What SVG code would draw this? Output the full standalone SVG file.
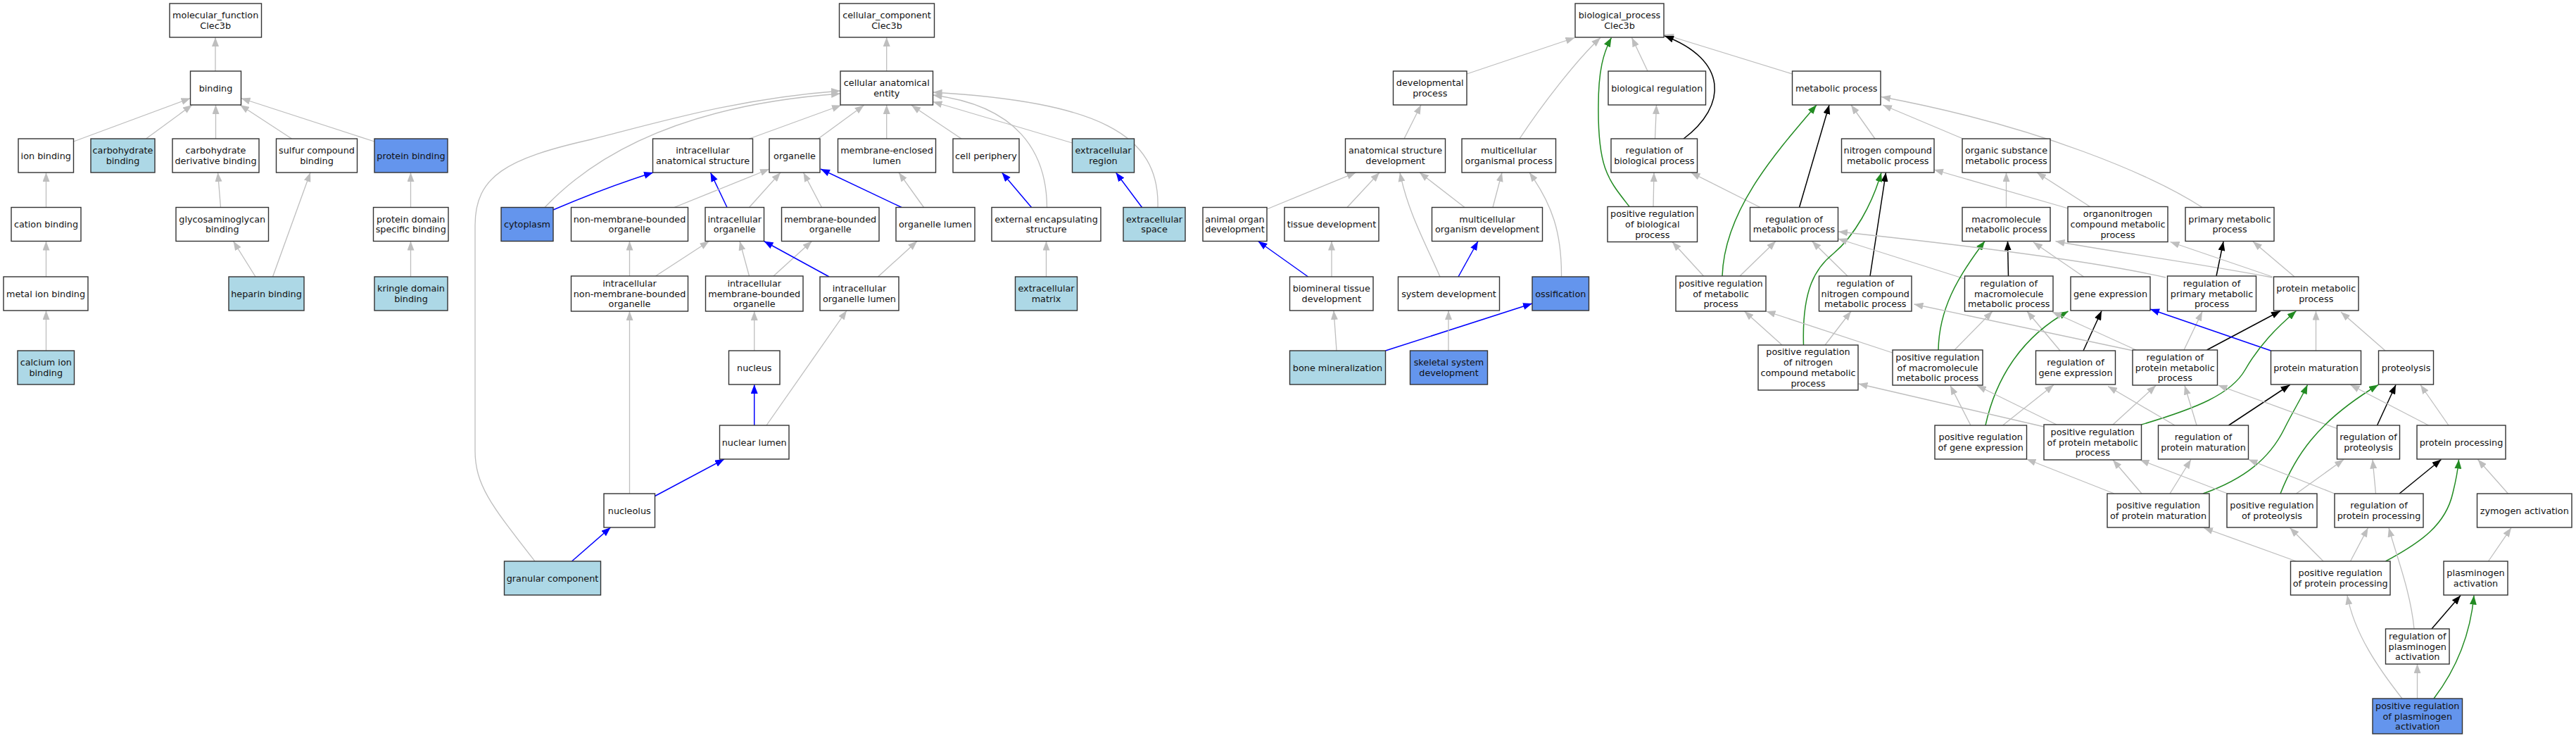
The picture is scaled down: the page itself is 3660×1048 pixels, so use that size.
<svg xmlns="http://www.w3.org/2000/svg" width="3660" height="1048" viewBox="0 0 3660 1048">
<style>
.n rect{fill:#fff;stroke:#333;stroke-width:1.4}
.n.lb rect{fill:#add8e6}
.n.cb rect{fill:#6495ed}
.n text{font-family:"DejaVu Sans",sans-serif;font-size:12.8px;text-anchor:middle;fill:#111}
#edges path{fill:none;stroke-width:1.3}
#edges .g{stroke:#bebebe;marker-end:url(#ag)}
#edges .b{stroke:#0000ff;stroke-width:1.5;marker-end:url(#ab)}
#edges .k{stroke:#000;stroke-width:1.5;marker-end:url(#ak)}
#edges .e{stroke:#228b22;stroke-width:1.5;marker-end:url(#ae)}
</style>
<defs>
<marker id="ag" viewBox="0 0 13 10" refX="13" refY="5" markerWidth="13" markerHeight="10" markerUnits="userSpaceOnUse" orient="auto"><path d="M0,0 L13,5 L0,10 z" fill="#bebebe"/></marker>
<marker id="ab" viewBox="0 0 13 10" refX="13" refY="5" markerWidth="13" markerHeight="10" markerUnits="userSpaceOnUse" orient="auto"><path d="M0,0 L13,5 L0,10 z" fill="#0000ff"/></marker>
<marker id="ak" viewBox="0 0 13 10" refX="13" refY="5" markerWidth="13" markerHeight="10" markerUnits="userSpaceOnUse" orient="auto"><path d="M0,0 L13,5 L0,10 z" fill="#000"/></marker>
<marker id="ae" viewBox="0 0 13 10" refX="13" refY="5" markerWidth="13" markerHeight="10" markerUnits="userSpaceOnUse" orient="auto"><path d="M0,0 L13,5 L0,10 z" fill="#228b22"/></marker>
</defs>
<rect width="3660" height="1048" fill="#fff"/>
<g id="edges">
<path class="g" d="M306,101 L306,53"/>
<path class="g" d="M104.5,201 L270.5,139.5"/>
<path class="g" d="M207.5,197 L273,149"/>
<path class="g" d="M306.5,197 L306.5,149"/>
<path class="g" d="M414.5,197 L341,149"/>
<path class="g" d="M532,201 L342.5,139.5"/>
<path class="g" d="M65.5,294.5 L65.5,245"/>
<path class="g" d="M65.5,393 L65.5,342.5"/>
<path class="g" d="M65.5,498 L65.5,441"/>
<path class="g" d="M313.5,294.5 L309.5,245"/>
<path class="g" d="M363,393 L331.5,342.5"/>
<path class="g" d="M387.5,393 L441,245"/>
<path class="g" d="M583.5,294.5 L583.5,245"/>
<path class="g" d="M583.5,393 L583.5,342.5"/>
<path class="g" d="M1259.7,101 L1259.7,53"/>
<path class="g" d="M1064.5,197 L1195,149.5"/>
<path class="g" d="M1162.5,197 L1227.5,149.5"/>
<path class="g" d="M1259.7,197 L1259.7,149"/>
<path class="g" d="M1366,197 L1295,149.5"/>
<path class="g" d="M1523.5,203 L1325.5,144.5"/>
<path class="g" d="M1487.5,294.5 C1487,215 1445,150 1325.5,135"/>
<path class="g" d="M1645,294.5 C1648,190 1560,145 1325.5,131"/>
<path class="g" d="M774,294.5 C840,225 960,150 1194,133"/>
<path class="g" d="M760,797 C700,720 675,690 675,640 L675,320 C675,250 720,225 840,198 C950,170 1050,140 1194,129"/>
<path class="b" d="M786,298 C840,275 880,260 928,245"/>
<path class="b" d="M1033,294.5 L1009.5,245"/>
<path class="g" d="M958,294.5 L1093,240"/>
<path class="g" d="M1064.5,294.5 L1109,245"/>
<path class="g" d="M1167.5,294.5 L1141.5,245"/>
<path class="b" d="M1281,294.5 L1166,240"/>
<path class="g" d="M1312.5,294.5 L1277,245"/>
<path class="b" d="M1465.5,294.5 L1423.5,245"/>
<path class="b" d="M1622.5,294.5 L1585.5,245"/>
<path class="g" d="M894.5,392 L894.5,342.5"/>
<path class="g" d="M931.5,392 L1007.5,342.5"/>
<path class="g" d="M1064.5,392 L1051,342.5"/>
<path class="g" d="M1099,392 L1153.5,342.5"/>
<path class="b" d="M1178,393 L1085.5,342.5"/>
<path class="g" d="M1247.5,393 L1303,342.5"/>
<path class="g" d="M1486.5,393 L1486.5,342.5"/>
<path class="g" d="M1071.7,498 L1071.7,442"/>
<path class="b" d="M1071.7,604 L1071.7,546"/>
<path class="g" d="M1089,604 L1203,441"/>
<path class="g" d="M894.5,701 L894.5,442"/>
<path class="b" d="M930.5,704.5 L1029,652"/>
<path class="b" d="M812.5,797 L867.5,749"/>
<path class="g" d="M2084,105 L2237.5,53.5"/>
<path class="g" d="M2159,197 C2190,150 2240,85 2274,53.5"/>
<path class="g" d="M2341,101 L2318.5,53.5"/>
<path class="g" d="M2546.5,105 L2365,49"/>
<path class="k" d="M2391.5,197.5 C2455,150 2455,85 2365,51"/>
<path class="e" d="M2315.5,294 C2285,255 2270,240 2271,150 C2271,100 2278,75 2289.5,53.5"/>
<path class="g" d="M2351.5,197 L2353.5,149"/>
<path class="g" d="M2349,293.5 L2350,245"/>
<path class="g" d="M1995,197 L2019,149"/>
<path class="g" d="M1800,297 L1926.5,245"/>
<path class="g" d="M1914,294.5 L1960,245"/>
<path class="g" d="M2046,393 C2025,345 2000,300 1989,245"/>
<path class="g" d="M2081,294.5 L2017,245"/>
<path class="g" d="M2121,294.5 L2134,245"/>
<path class="g" d="M2218.5,393 C2219,330 2205,290 2173,245"/>
<path class="b" d="M1858.5,393 L1787.5,342.5"/>
<path class="g" d="M1892,393 L1892,342.5"/>
<path class="b" d="M2072,393 L2100,342.5"/>
<path class="g" d="M1899,498 L1895,441"/>
<path class="b" d="M1968.5,498 L2177,431"/>
<path class="g" d="M2058,498 L2058,441"/>
<path class="k" d="M2556.5,294.5 L2599,149"/>
<path class="g" d="M2501,294.5 L2402.5,245"/>
<path class="g" d="M2420.5,392 L2376,343.5"/>
<path class="g" d="M2472,392 L2523,342.5"/>
<path class="e" d="M2447,392 C2450,300 2520,220 2581,149"/>
<path class="g" d="M2664,197 L2630,149"/>
<path class="g" d="M2789,197 L2675,149"/>
<path class="g" d="M3129,294.5 C3060,250 2900,180 2673,137.5"/>
<path class="g" d="M2625,392 L2574.5,342.5"/>
<path class="k" d="M2657,392 L2679.5,245"/>
<path class="e" d="M2562.5,490 C2560,410 2580,380 2605,360 C2635,335 2660,290 2673,245"/>
<path class="g" d="M2532,490 L2478.5,442"/>
<path class="g" d="M2593,490 L2630,442"/>
<path class="g" d="M2938.5,296 L2748,241"/>
<path class="g" d="M2969.5,293.5 L2894,245"/>
<path class="g" d="M2850.5,294.5 L2850.5,245"/>
<path class="k" d="M2853.5,392 L2852.5,342.5"/>
<path class="g" d="M2791.5,396 L2611.5,339"/>
<path class="e" d="M2754,497 C2755,440 2780,395 2820,342.5"/>
<path class="g" d="M2777,497 L2831,442"/>
<path class="g" d="M2689,501 L2509.5,442"/>
<path class="g" d="M2960.5,393 L2889,344"/>
<path class="g" d="M3077,394 Q2950,365 2612,329"/>
<path class="g" d="M3228.5,394 C3100,370 2990,356 2920.5,342.5"/>
<path class="k" d="M3149,392 L3159,343"/>
<path class="g" d="M3260,393 L3201,343"/>
<path class="g" d="M3228.5,393 L3083.5,343.5"/>
<path class="k" d="M2960,498 L2986,441.5"/>
<path class="g" d="M2927,498 L2880,442"/>
<path class="e" d="M2821,604 C2835,540 2870,480 2938.5,442"/>
<path class="g" d="M2800,604 L2771,547.5"/>
<path class="g" d="M2845.5,604 L2918,546.5"/>
<path class="k" d="M3135.5,497 L3240,441.5"/>
<path class="g" d="M3103,497 L3129,442.5"/>
<path class="g" d="M3035,497 L2916,443"/>
<path class="g" d="M3031,498 L2719.5,432"/>
<path class="b" d="M3226.5,498 L3055,439"/>
<path class="e" d="M3042.5,603 C3120,580 3170,560 3190,525 C3210,490 3235,465 3262.5,441.5"/>
<path class="g" d="M3290.5,498 L3290.5,441.5"/>
<path class="g" d="M3389,498 L3326,443"/>
<path class="g" d="M3002,603 L3063,547.5"/>
<path class="g" d="M3090,604 L2995,548.5"/>
<path class="g" d="M3121,604 L3104,547.5"/>
<path class="k" d="M3166.5,604 L3253.5,546.5"/>
<path class="e" d="M3130,701 C3190,680 3225,650 3245,610 C3260,580 3270,565 3278.5,546.5"/>
<path class="g" d="M3320.5,608.5 L3151.5,547"/>
<path class="e" d="M3240,701 C3260,650 3290,600 3379,546.5"/>
<path class="k" d="M3377.5,604 L3404,546.5"/>
<path class="g" d="M3479,604 L3439,546.5"/>
<path class="g" d="M3450.5,604 L3339.5,546.5"/>
<path class="g" d="M2904,606 L2640.5,545"/>
<path class="g" d="M2922,603 L2809,547.5"/>
<path class="g" d="M3043,701 L3002,653"/>
<path class="g" d="M3083,701 L3113,652.5"/>
<path class="g" d="M3004,701 L2879.5,652"/>
<path class="g" d="M3165,701 L3040.5,653"/>
<path class="g" d="M3262.5,701 L3330,652.5"/>
<path class="g" d="M3317,701 L3194.5,652.5"/>
<path class="g" d="M3375.5,701 L3371,652.5"/>
<path class="k" d="M3409,701 L3468.5,652.5"/>
<path class="g" d="M3563.5,701 L3520.5,652.5"/>
<path class="e" d="M3389.5,797 C3440,770 3475,745 3485,700 C3490,680 3492,670 3493.5,652.5"/>
<path class="g" d="M3262.5,797 L3131,749.5"/>
<path class="g" d="M3301,797 L3253.5,749.5"/>
<path class="g" d="M3339.5,797 L3364.5,749.5"/>
<path class="g" d="M3535.5,797 L3568,749.5"/>
<path class="g" d="M3430,893 C3425,840 3405,790 3394,749.5"/>
<path class="k" d="M3455,893 L3496,845.5"/>
<path class="g" d="M3434.5,992 L3434.5,943"/>
<path class="g" d="M3413,992 C3380,950 3345,900 3335,845.5"/>
<path class="e" d="M3458,992 C3490,950 3510,900 3515,845.5"/>
</g>
<g id="n_mf" class="n"><rect x="241" y="5" width="130.5" height="48"/><text x="306.2" y="26.15">molecular_function<tspan x="306.2" y="40.85">Clec3b</tspan></text></g>
<g id="n_binding" class="n"><rect x="270.5" y="101" width="72" height="48"/><text x="306.5" y="129.5">binding</text></g>
<g id="n_ionb" class="n"><rect x="26" y="197" width="78.5" height="48"/><text x="65.25" y="225.5">ion binding</text></g>
<g id="n_carbb" class="n lb"><rect x="129" y="197" width="91" height="48"/><text x="174.5" y="218.15">carbohydrate<tspan x="174.5" y="232.85">binding</tspan></text></g>
<g id="n_cdb" class="n"><rect x="245" y="197" width="123" height="48"/><text x="306.5" y="218.15">carbohydrate<tspan x="306.5" y="232.85">derivative binding</tspan></text></g>
<g id="n_sulf" class="n"><rect x="392.5" y="197" width="115" height="48"/><text x="450" y="218.15">sulfur compound<tspan x="450" y="232.85">binding</tspan></text></g>
<g id="n_protb" class="n cb"><rect x="532" y="197" width="104" height="48"/><text x="584" y="225.5">protein binding</text></g>
<g id="n_cation" class="n"><rect x="16" y="294.5" width="99" height="48"/><text x="65.5" y="323">cation binding</text></g>
<g id="n_gag" class="n"><rect x="250" y="294.5" width="131.5" height="48"/><text x="315.75" y="315.65">glycosaminoglycan<tspan x="315.75" y="330.35">binding</tspan></text></g>
<g id="n_pdsb" class="n"><rect x="530.5" y="294.5" width="106.5" height="48"/><text x="583.75" y="315.65">protein domain<tspan x="583.75" y="330.35">specific binding</tspan></text></g>
<g id="n_metal" class="n"><rect x="5" y="393" width="120" height="48"/><text x="65" y="421.5">metal ion binding</text></g>
<g id="n_hep" class="n lb"><rect x="325" y="393" width="107" height="48"/><text x="378.5" y="421.5">heparin binding</text></g>
<g id="n_kringle" class="n lb"><rect x="532" y="393" width="104" height="48"/><text x="584" y="414.15">kringle domain<tspan x="584" y="428.85">binding</tspan></text></g>
<g id="n_calcium" class="n lb"><rect x="25" y="498" width="80.5" height="48"/><text x="65.25" y="519.15">calcium ion<tspan x="65.25" y="533.85">binding</tspan></text></g>
<g id="n_cc" class="n"><rect x="1192.5" y="5" width="135" height="48"/><text x="1260" y="26.15">cellular_component<tspan x="1260" y="40.85">Clec3b</tspan></text></g>
<g id="n_cae" class="n"><rect x="1194" y="101" width="131.5" height="48"/><text x="1259.75" y="122.15">cellular anatomical<tspan x="1259.75" y="136.85">entity</tspan></text></g>
<g id="n_ias" class="n"><rect x="927.5" y="197" width="142" height="48"/><text x="998.5" y="218.15">intracellular<tspan x="998.5" y="232.85">anatomical structure</tspan></text></g>
<g id="n_org" class="n"><rect x="1093" y="197" width="72" height="48"/><text x="1129" y="225.5">organelle</text></g>
<g id="n_mel" class="n"><rect x="1190.5" y="197" width="139" height="48"/><text x="1260" y="218.15">membrane-enclosed<tspan x="1260" y="232.85">lumen</tspan></text></g>
<g id="n_cp" class="n"><rect x="1354" y="197" width="94" height="48"/><text x="1401" y="225.5">cell periphery</text></g>
<g id="n_er" class="n lb"><rect x="1523.5" y="197" width="88" height="48"/><text x="1567.5" y="218.15">extracellular<tspan x="1567.5" y="232.85">region</tspan></text></g>
<g id="n_cyto" class="n cb"><rect x="712" y="294.5" width="74" height="48"/><text x="749" y="323">cytoplasm</text></g>
<g id="n_nmbo" class="n"><rect x="811.5" y="294.5" width="166" height="48"/><text x="894.5" y="315.65">non-membrane-bounded<tspan x="894.5" y="330.35">organelle</tspan></text></g>
<g id="n_io" class="n"><rect x="1002" y="294.5" width="83.5" height="48"/><text x="1043.75" y="315.65">intracellular<tspan x="1043.75" y="330.35">organelle</tspan></text></g>
<g id="n_mbo" class="n"><rect x="1110.5" y="294.5" width="138.5" height="48"/><text x="1179.75" y="315.65">membrane-bounded<tspan x="1179.75" y="330.35">organelle</tspan></text></g>
<g id="n_ol" class="n"><rect x="1273" y="294.5" width="112" height="48"/><text x="1329" y="323">organelle lumen</text></g>
<g id="n_ees" class="n"><rect x="1409" y="294.5" width="155" height="48"/><text x="1486.5" y="315.65">external encapsulating<tspan x="1486.5" y="330.35">structure</tspan></text></g>
<g id="n_es" class="n lb"><rect x="1596" y="294.5" width="88" height="48"/><text x="1640" y="315.65">extracellular<tspan x="1640" y="330.35">space</tspan></text></g>
<g id="n_inmbo" class="n"><rect x="811.5" y="392" width="166" height="50"/><text x="894.5" y="406.8">intracellular<tspan x="894.5" y="421.5">non-membrane-bounded</tspan><tspan x="894.5" y="436.2">organelle</tspan></text></g>
<g id="n_imbo" class="n"><rect x="1002.5" y="392" width="138.5" height="50"/><text x="1071.75" y="406.8">intracellular<tspan x="1071.75" y="421.5">membrane-bounded</tspan><tspan x="1071.75" y="436.2">organelle</tspan></text></g>
<g id="n_iol" class="n"><rect x="1165" y="393" width="112" height="48"/><text x="1221" y="414.15">intracellular<tspan x="1221" y="428.85">organelle lumen</tspan></text></g>
<g id="n_ecm" class="n lb"><rect x="1442.5" y="393" width="88" height="48"/><text x="1486.5" y="414.15">extracellular<tspan x="1486.5" y="428.85">matrix</tspan></text></g>
<g id="n_nucleus" class="n"><rect x="1035.5" y="498" width="72.5" height="48"/><text x="1071.75" y="526.5">nucleus</text></g>
<g id="n_nl" class="n"><rect x="1022.5" y="604" width="98.5" height="48"/><text x="1071.75" y="632.5">nuclear lumen</text></g>
<g id="n_nucleolus" class="n"><rect x="858" y="701" width="72.5" height="48"/><text x="894.25" y="729.5">nucleolus</text></g>
<g id="n_gc" class="n lb"><rect x="716.5" y="797" width="137" height="48"/><text x="785" y="825.5">granular component</text></g>
<g id="n_bp" class="n"><rect x="2238" y="5" width="126" height="48"/><text x="2301" y="26.15">biological_process<tspan x="2301" y="40.85">Clec3b</tspan></text></g>
<g id="n_dp" class="n"><rect x="1979.5" y="101" width="104.5" height="48"/><text x="2031.75" y="122.15">developmental<tspan x="2031.75" y="136.85">process</tspan></text></g>
<g id="n_br" class="n"><rect x="2285" y="101" width="138.5" height="48"/><text x="2354.25" y="129.5">biological regulation</text></g>
<g id="n_mp" class="n"><rect x="2546.5" y="101" width="125.5" height="48"/><text x="2609.25" y="129.5">metabolic process</text></g>
<g id="n_asd" class="n"><rect x="1911.5" y="197" width="142" height="48"/><text x="1982.5" y="218.15">anatomical structure<tspan x="1982.5" y="232.85">development</tspan></text></g>
<g id="n_mop" class="n"><rect x="2077" y="197" width="133.5" height="48"/><text x="2143.75" y="218.15">multicellular<tspan x="2143.75" y="232.85">organismal process</tspan></text></g>
<g id="n_robp" class="n"><rect x="2289" y="197" width="122.5" height="48"/><text x="2350.25" y="218.15">regulation of<tspan x="2350.25" y="232.85">biological process</tspan></text></g>
<g id="n_ncmp" class="n"><rect x="2616.5" y="197" width="131.5" height="48"/><text x="2682.25" y="218.15">nitrogen compound<tspan x="2682.25" y="232.85">metabolic process</tspan></text></g>
<g id="n_osmp" class="n"><rect x="2788" y="197" width="125" height="48"/><text x="2850.5" y="218.15">organic substance<tspan x="2850.5" y="232.85">metabolic process</tspan></text></g>
<g id="n_aod" class="n"><rect x="1709" y="294.5" width="91" height="48"/><text x="1754.5" y="315.65">animal organ<tspan x="1754.5" y="330.35">development</tspan></text></g>
<g id="n_td" class="n"><rect x="1825" y="294.5" width="134" height="48"/><text x="1892" y="323">tissue development</text></g>
<g id="n_mod" class="n"><rect x="2034.5" y="294.5" width="157" height="48"/><text x="2113" y="315.65">multicellular<tspan x="2113" y="330.35">organism development</tspan></text></g>
<g id="n_prbp" class="n"><rect x="2284" y="293.5" width="127.5" height="50"/><text x="2347.75" y="308.3">positive regulation<tspan x="2347.75" y="323">of biological</tspan><tspan x="2347.75" y="337.7">process</tspan></text></g>
<g id="n_romp" class="n"><rect x="2486.5" y="294.5" width="125" height="48"/><text x="2549" y="315.65">regulation of<tspan x="2549" y="330.35">metabolic process</tspan></text></g>
<g id="n_mmp" class="n"><rect x="2788" y="294.5" width="125" height="48"/><text x="2850.5" y="315.65">macromolecule<tspan x="2850.5" y="330.35">metabolic process</tspan></text></g>
<g id="n_oncmp" class="n"><rect x="2938" y="293.5" width="142" height="50"/><text x="3009" y="308.3">organonitrogen<tspan x="3009" y="323">compound metabolic</tspan><tspan x="3009" y="337.7">process</tspan></text></g>
<g id="n_primmp" class="n"><rect x="3105" y="294.5" width="126" height="48"/><text x="3168" y="315.65">primary metabolic<tspan x="3168" y="330.35">process</tspan></text></g>
<g id="n_btd" class="n"><rect x="1832.5" y="393" width="118.5" height="48"/><text x="1891.75" y="414.15">biomineral tissue<tspan x="1891.75" y="428.85">development</tspan></text></g>
<g id="n_sd" class="n"><rect x="1986.5" y="393" width="144" height="48"/><text x="2058.5" y="421.5">system development</text></g>
<g id="n_oss" class="n cb"><rect x="2177" y="393" width="80.5" height="48"/><text x="2217.25" y="421.5">ossification</text></g>
<g id="n_prmp" class="n"><rect x="2381" y="392" width="128" height="50"/><text x="2445" y="406.8">positive regulation<tspan x="2445" y="421.5">of metabolic</tspan><tspan x="2445" y="436.2">process</tspan></text></g>
<g id="n_rncmp" class="n"><rect x="2584.5" y="392" width="131.5" height="50"/><text x="2650.25" y="406.8">regulation of<tspan x="2650.25" y="421.5">nitrogen compound</tspan><tspan x="2650.25" y="436.2">metabolic process</tspan></text></g>
<g id="n_rommp" class="n"><rect x="2791.5" y="392" width="125.5" height="50"/><text x="2854.25" y="406.8">regulation of<tspan x="2854.25" y="421.5">macromolecule</tspan><tspan x="2854.25" y="436.2">metabolic process</tspan></text></g>
<g id="n_ge" class="n"><rect x="2942" y="393" width="113" height="48"/><text x="2998.5" y="421.5">gene expression</text></g>
<g id="n_rpmp" class="n"><rect x="3079.5" y="392" width="126" height="50"/><text x="3142.5" y="406.8">regulation of<tspan x="3142.5" y="421.5">primary metabolic</tspan><tspan x="3142.5" y="436.2">process</tspan></text></g>
<g id="n_pmp" class="n"><rect x="3230.5" y="393" width="120.5" height="48"/><text x="3290.75" y="414.15">protein metabolic<tspan x="3290.75" y="428.85">process</tspan></text></g>
<g id="n_bm" class="n lb"><rect x="1832.5" y="498" width="136" height="48"/><text x="1900.5" y="526.5">bone mineralization</text></g>
<g id="n_ssd" class="n cb"><rect x="2003.5" y="498" width="110" height="48"/><text x="2058.5" y="519.15">skeletal system<tspan x="2058.5" y="533.85">development</tspan></text></g>
<g id="n_prncmp" class="n"><rect x="2498" y="490" width="142" height="64"/><text x="2569" y="504.45">positive regulation<tspan x="2569" y="519.15">of nitrogen</tspan><tspan x="2569" y="533.85">compound metabolic</tspan><tspan x="2569" y="548.55">process</tspan></text></g>
<g id="n_prmmp" class="n"><rect x="2689" y="497" width="128" height="50"/><text x="2753" y="511.8">positive regulation<tspan x="2753" y="526.5">of macromolecule</tspan><tspan x="2753" y="541.2">metabolic process</tspan></text></g>
<g id="n_rge" class="n"><rect x="2892.5" y="498" width="113" height="48"/><text x="2949" y="519.15">regulation of<tspan x="2949" y="533.85">gene expression</tspan></text></g>
<g id="n_rprmp" class="n"><rect x="3030" y="497" width="120.5" height="50"/><text x="3090.25" y="511.8">regulation of<tspan x="3090.25" y="526.5">protein metabolic</tspan><tspan x="3090.25" y="541.2">process</tspan></text></g>
<g id="n_pm" class="n"><rect x="3226.5" y="498" width="128" height="48"/><text x="3290.5" y="526.5">protein maturation</text></g>
<g id="n_prot" class="n"><rect x="3379.5" y="498" width="78" height="48"/><text x="3418.5" y="526.5">proteolysis</text></g>
<g id="n_prge" class="n"><rect x="2749" y="604" width="130.5" height="48"/><text x="2814.25" y="625.15">positive regulation<tspan x="2814.25" y="639.85">of gene expression</tspan></text></g>
<g id="n_prprmp" class="n"><rect x="2904" y="603" width="138.5" height="50"/><text x="2973.25" y="617.8">positive regulation<tspan x="2973.25" y="632.5">of protein metabolic</tspan><tspan x="2973.25" y="647.2">process</tspan></text></g>
<g id="n_rpmat" class="n"><rect x="3066.5" y="604" width="128" height="48"/><text x="3130.5" y="625.15">regulation of<tspan x="3130.5" y="639.85">protein maturation</tspan></text></g>
<g id="n_rop" class="n"><rect x="3320.5" y="604" width="89" height="48"/><text x="3365" y="625.15">regulation of<tspan x="3365" y="639.85">proteolysis</tspan></text></g>
<g id="n_pp" class="n"><rect x="3434" y="604" width="126" height="48"/><text x="3497" y="632.5">protein processing</text></g>
<g id="n_prpmat" class="n"><rect x="2994" y="701" width="145" height="48"/><text x="3066.5" y="722.15">positive regulation<tspan x="3066.5" y="736.85">of protein maturation</tspan></text></g>
<g id="n_prop" class="n"><rect x="3164" y="701" width="128" height="48"/><text x="3228" y="722.15">positive regulation<tspan x="3228" y="736.85">of proteolysis</tspan></text></g>
<g id="n_rpp" class="n"><rect x="3317" y="701" width="126" height="48"/><text x="3380" y="722.15">regulation of<tspan x="3380" y="736.85">protein processing</tspan></text></g>
<g id="n_za" class="n"><rect x="3519.5" y="701" width="134.5" height="48"/><text x="3586.75" y="729.5">zymogen activation</text></g>
<g id="n_prpp" class="n"><rect x="3254.5" y="797" width="141.5" height="48"/><text x="3325.25" y="818.15">positive regulation<tspan x="3325.25" y="832.85">of protein processing</tspan></text></g>
<g id="n_pa" class="n"><rect x="3472" y="797" width="91" height="48"/><text x="3517.5" y="818.15">plasminogen<tspan x="3517.5" y="832.85">activation</tspan></text></g>
<g id="n_rpa" class="n"><rect x="3389.5" y="893" width="90.5" height="50"/><text x="3434.75" y="907.8">regulation of<tspan x="3434.75" y="922.5">plasminogen</tspan><tspan x="3434.75" y="937.2">activation</tspan></text></g>
<g id="n_prpa" class="n cb"><rect x="3371" y="992" width="127.5" height="50"/><text x="3434.75" y="1006.8">positive regulation<tspan x="3434.75" y="1021.5">of plasminogen</tspan><tspan x="3434.75" y="1036.2">activation</tspan></text></g>
</svg>
